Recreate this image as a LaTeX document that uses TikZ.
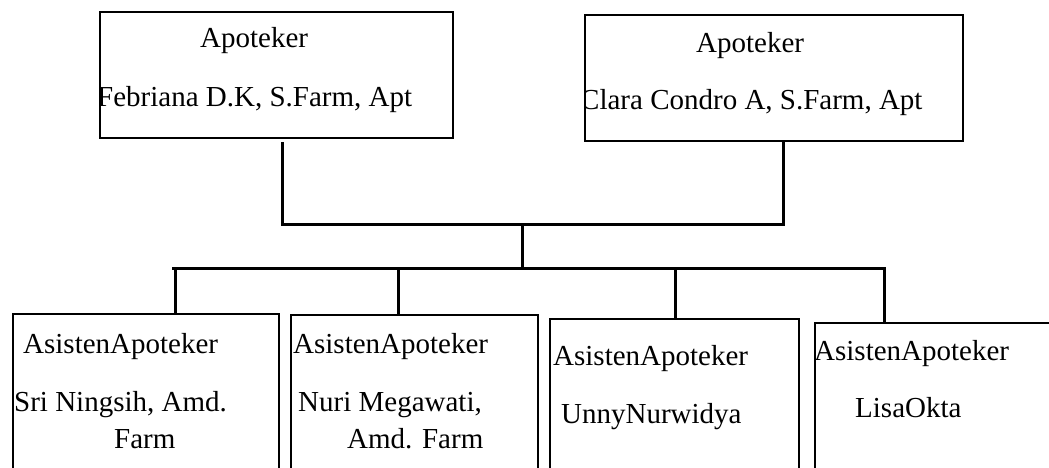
\documentclass[tikz,border=0pt]{standalone}
\usepackage{fontspec}
\setmainfont{Liberation Serif}
\begin{document}
\begin{tikzpicture}[x=1pt,y=-1pt,
  box/.style={draw=black,line width=2pt,fill=none,inner sep=0pt},
  conn/.style={draw=black,line width=3pt,line cap=rect,line join=miter},
  lbl/.style={anchor=base west,inner sep=0pt,font=\fontsize{29}{34}\selectfont}]
\clip (0,0) rectangle (1049,468);
\fill[white] (0,0) rectangle (1049,468);

% pharmacists
\node[box,minimum width=353pt,minimum height=126pt] (tl) at (276.5,75) {};
\node[box,minimum width=378pt,minimum height=126pt] (tr) at (774,78) {};

% assistants (boxes run past the lower edge)
\node[box,anchor=north west,minimum width=266pt,minimum height=200pt] (b1) at (12,313) {};
\node[box,anchor=north west,minimum width=247pt,minimum height=200pt] (b2) at (290,314) {};
\node[box,anchor=north west,minimum width=249pt,minimum height=200pt] (b3) at (549,318) {};
\node[box,anchor=north west,minimum width=260pt,minimum height=200pt] (b4) at (814,322) {};

% texts, cut to their boxes
\begin{scope}
  \clip (100,12) rectangle (453,138);
  \node[lbl] (tlA) at (200,48) {Apoteker};
  \node[lbl] (tlB) at (97,107) {Febriana D.K, S.Farm, Apt};
\end{scope}
\begin{scope}
  \clip (585,15) rectangle (963,141);
  \node[lbl] (trA) at (696,53) {Apoteker};
  \node[lbl] (trB) at (580,110) {Clara Condro A, S.Farm, Apt};
\end{scope}
\begin{scope}
  \clip (12,313) rectangle (278,480);
  \node[lbl] (b1A) at (23,353) {AsistenApoteker};
  \node[lbl] (b1B) at (14,411) {Sri Ningsih, Amd.};
  \node[lbl] (b1C) at (114,448) {Farm};
\end{scope}
\begin{scope}
  \clip (290,314) rectangle (537,480);
  \node[lbl] (b2A) at (293,353) {AsistenApoteker};
  \node[lbl] (b2B) at (298,411) {Nuri Megawati,};
  \node[lbl] (b2C) at (347,448) {Amd. Farm};
\end{scope}
\begin{scope}
  \clip (549,318) rectangle (798,480);
  \node[lbl] (b3A) at (553,365) {AsistenApoteker};
  \node[lbl] (b3B) at (561,423) {UnnyNurwidya};
\end{scope}
\begin{scope}
  \clip (814,322) rectangle (1074,480);
  \node[lbl] (b4A) at (814,360) {AsistenApoteker};
  \node[lbl] (b4B) at (855,417) {LisaOkta};
\end{scope}

% junction points
\coordinate (hubL) at (282,224);
\coordinate (hubM) at (522,224);
\coordinate (hubR) at (783,224);
\coordinate (busM) at (522,268);
\coordinate (busL) at (173,268);
\coordinate (busR) at (884,268);
\coordinate (d1) at (175,268);
\coordinate (d2) at (398,268);
\coordinate (d3) at (675,268);
\coordinate (d4) at (884,268);

% connectors
\draw[conn] ([yshift=-5pt]tl.south -| hubL) -- (hubL) -- (hubR) -- (tr.south -| hubR);
\draw[conn] (hubM) -- (busM);
\draw[conn] (busL) -- (busR);
\draw[conn] (d1) -- (b1.north -| d1);
\draw[conn] (d2) -- (b2.north -| d2);
\draw[conn] (d3) -- (b3.north -| d3);
\draw[conn] (d4) -- (b4.north -| d4);
\end{tikzpicture}
\end{document}
